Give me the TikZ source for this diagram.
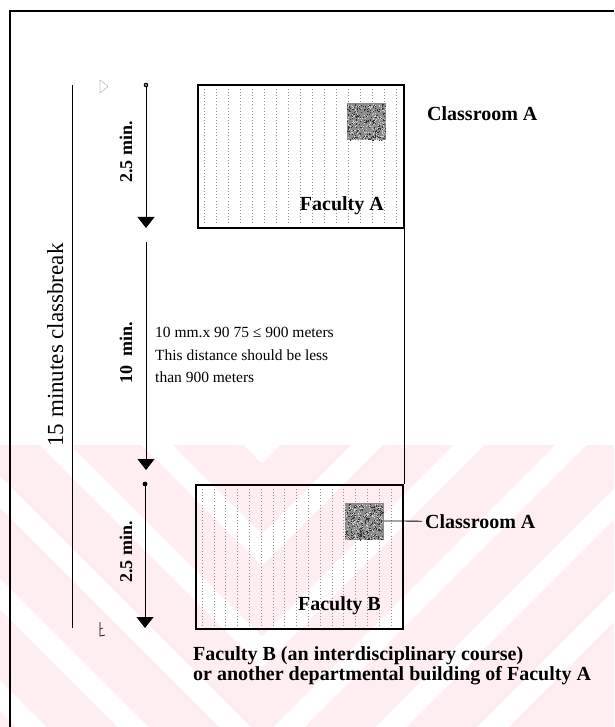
\documentclass[tikz,border=0pt]{standalone}
\usepackage{fontspec}
\setmainfont{Liberation Serif}
\usetikzlibrary{arrows.meta}
\definecolor{wmpink}{RGB}{254,238,241}
\begin{document}
\begin{tikzpicture}[x=1pt,y=-1pt,
  lbl/.style={font=\fontsize{20}{22}\selectfont\bfseries, inner sep=0},
  minlbl/.style={font=\fontsize{18}{20}\selectfont\bfseries, rotate=90, anchor=base, inner sep=0},
  timearrow/.style={line width=1pt, -{Triangle[width=17pt,length=11pt]}},
  hall/.style={draw, line width=1.1pt, inner sep=0},
  room/.style={fill=black!45, minimum width=39, minimum height=37, inner sep=0},
  gridline/.style={gray!85, line width=0.6pt, dash pattern=on 0.9pt off 2.2pt},
  speck/.style={black!80},
]
\useasboundingbox (0,0) rectangle (614,727);

% faint chevron band pattern in the lower part of the sheet
\begin{scope}
  \clip (0,445) rectangle (614,727);
  \fill[wmpink] (0,445) rectangle (614,727);
  \foreach \k in {-2,...,4} {
    \draw[white, line width=22pt, line join=miter]
      ({262-450},{550+102*\k-450}) -- (262,{550+102*\k}) -- ({262+450},{550+102*\k-450});
  }
\end{scope}

% sheet frame (top and left edges)
\draw[line width=1.3pt] (10,727) -- (10,11) -- (614,11);

% buildings
\node[hall, minimum width=206, minimum height=143] (facA) at (301,156.5) {};
\node[hall, minimum width=207, minimum height=144] (facB) at (299.5,557) {};
\draw[line width=1.1pt] (facA.south east) -- (facA.south east |- facB.north);

% dotted floor grid inside the buildings
\foreach \i in {0,...,16} {
  \draw[gridline] ({204+12*\i},89) -- ({204+12*\i},225);
  \draw[gridline] ({202+11.8*\i},489) -- ({202+11.8*\i},626);
}

% classrooms (speckled squares)
\node[room] (clsA) at (366.5,121.5) {};
\node[room] (clsB) at (364,521) {};
\pgfmathsetseed{17}
\foreach \i in {1,...,260} {
  \pgfmathsetmacro\rx{347+38*rnd}
  \pgfmathsetmacro\ry{104+36*rnd}
  \fill[speck] (\rx,\ry) rectangle ++(1.1,1.1);
  \pgfmathsetmacro\sx{344.5+38*rnd}
  \pgfmathsetmacro\sy{503.5+36*rnd}
  \fill[speck] (\sx,\sy) rectangle ++(1.1,1.1);
}
\foreach \i in {1,...,200} {
  \pgfmathsetmacro\rx{347+38*rnd}
  \pgfmathsetmacro\ry{104+36*rnd}
  \fill[gray!35] (\rx,\ry) rectangle ++(1,1);
  \pgfmathsetmacro\sx{344.5+38*rnd}
  \pgfmathsetmacro\sy{503.5+36*rnd}
  \fill[gray!35] (\sx,\sy) rectangle ++(1,1);
}

% building and classroom labels
\node[lbl, anchor=base east] (labA) at (384,211) {Faculty A};
\node[lbl, anchor=base east] (labB) at (381,610) {Faculty B};
\node[lbl, anchor=base west] (roomA) at (427,121) {Classroom A};
\node[lbl, anchor=base west, inner sep=3pt] (roomB) at (422,528) {Classroom A};
\draw[line width=0.8pt] (clsB.east) -- (roomB.west);

% overall span of the break
\coordinate (spanT) at (72,85);
\coordinate (spanB) at (72,628);
\draw[line width=0.9pt] (spanT) -- (spanB);
\node[font=\fontsize{23}{25}\selectfont, rotate=90, anchor=base, inner sep=0] (total) at (63,345) {15 minutes classbreak};

% small end marks of the span
\coordinate (mkT) at (100,80);
\draw[gray!70, line width=0.7pt, dash pattern=on 1pt off 0.8pt] (mkT) -- ++(8,6.5) -- ++(-8,6.5) -- cycle;
\coordinate (mkB) at (100,622);
\draw[line width=0.7pt] (mkB) -- ++(0,14) -- ++(5,-1);
\draw[line width=0.6pt] (mkB) ++(0,7) -- ++(3,-1);

% walking legs
\coordinate (t1) at (146,85);
\coordinate (h1) at (146,228);
\coordinate (t2) at (146,242);
\coordinate (h2) at (146,470);
\coordinate (t3) at (145,484);
\coordinate (h3) at (145,628);
\draw[timearrow] (t1) -- (h1);
\draw[timearrow] (t2) -- (h2);
\draw[timearrow] (t3) -- (h3);
\fill (t1) circle (2.3);
\fill[white] (t1) circle (0.9);
\fill (t3) circle (2.4);

\node[minlbl] (m1) at (132,152) {2.5 min.};
\node[minlbl] (m2) at (132,353) {10\ \ min.};
\node[minlbl] (m3) at (132,552) {2.5 min.};

% distance note
\node[font=\fontsize{15.5}{22.5}\selectfont, align=left, anchor=west, inner sep=0] (note) at (155,355)
  {10 mm.x 90 75 ≤ 900 meters\\This distance should be less\\than 900 meters};

% caption under the lower building
\node[font=\fontsize{20}{19.5}\selectfont\bfseries, align=left, anchor=west, inner sep=0] (caption) at (193,666)
  {Faculty B (an interdisciplinary course)\\or another departmental building of Faculty A};
\end{tikzpicture}
\end{document}
